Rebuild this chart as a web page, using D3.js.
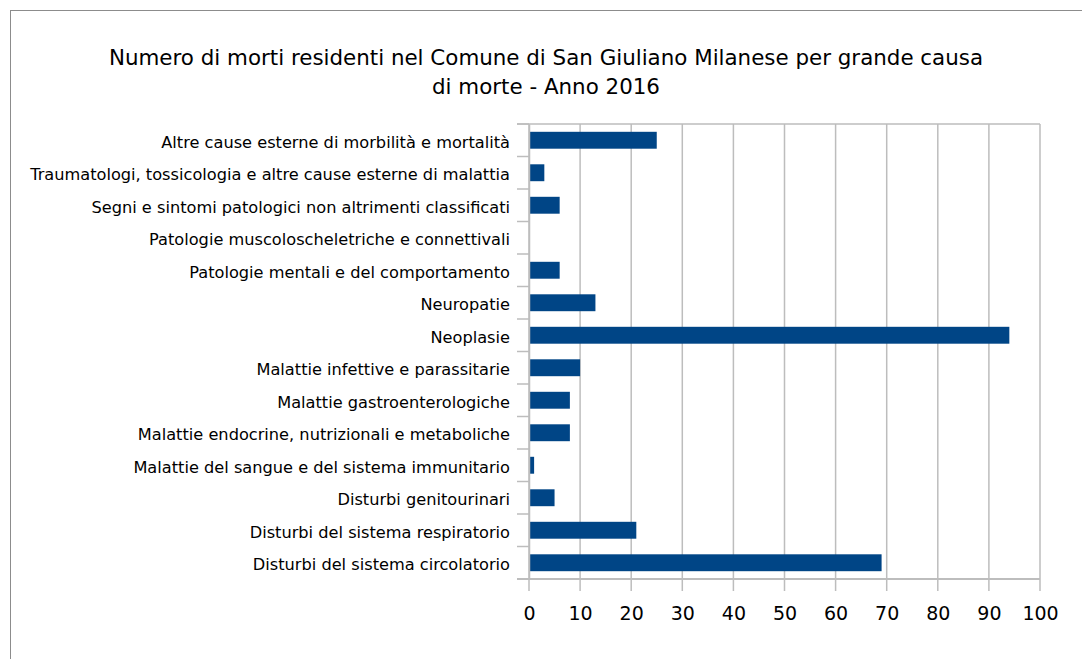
<!DOCTYPE html>
<html>
<head>
<meta charset="utf-8">
<script src="https://cdn.jsdelivr.net/npm/d3@7"></script>
<style>
  body { margin: 0; background: #fff; }
  svg { display: block; font-family: "DejaVu Sans", sans-serif; }
</style>
</head>
<body>
<div id="chart"></div>
<script>
// categories, top to bottom as in the chart
var causes = [
  "Altre cause esterne di morbilità e mortalità",
  "Traumatologi, tossicologia e altre cause esterne di malattia",
  "Segni e sintomi patologici non altrimenti classificati",
  "Patologie muscoloscheletriche e connettivali",
  "Patologie mentali e del comportamento",
  "Neuropatie",
  "Neoplasie",
  "Malattie infettive e parassitarie",
  "Malattie gastroenterologiche",
  "Malattie endocrine, nutrizionali e metaboliche",
  "Malattie del sangue e del sistema immunitario",
  "Disturbi genitourinari",
  "Disturbi del sistema respiratorio",
  "Disturbi del sistema circolatorio"
]
var deaths = [25, 3, 6, 0, 6, 13, 94, 10, 8, 8, 1, 5, 21, 69]
var xTicks = [0, 10, 20, 30, 40, 50, 60, 70, 80, 90, 100]
var titleLines = [
  "Numero di morti residenti nel Comune di San Giuliano Milanese per grande causa",
  "di morte - Anno 2016"
]

var W = 1082, H = 659
var plotL = 529, plotR = 1040, plotT = 124, plotB = 579

var svg = d3.select("#chart").append("svg")
    .attr("width", W)
    .attr("height", H)

// outer chart border
svg.append("rect")
    .attr("x", 10.5).attr("y", 10.5)
    .attr("width", W + 20).attr("height", H + 20)
    .attr("fill", "none")
    .attr("stroke", "#8c8c8c")
    .attr("stroke-width", 1)

svg.append("text")
    .attr("text-anchor", "middle")
    .attr("font-size", "21.4px")
    .attr("fill", "#000")
    .selectAll("tspan")
    .data(titleLines)
    .enter().append("tspan")
        .attr("x", 546)
        .attr("y", function(d, i) { return 65 + i * 29 })
        .text(function(d) { return d })

var x = d3.scaleLinear().domain([0, 100]).range([plotL, plotR])
var y = d3.scaleBand().domain(causes).range([plotT, plotB]).paddingInner(0.48).paddingOuter(0.24)

// vertical gridlines
svg.append("g")
    .selectAll("line")
    .data(xTicks)
    .enter().append("line")
        .attr("x1", function(d) { return x(d) })
        .attr("x2", function(d) { return x(d) })
        .attr("y1", plotT)
        .attr("y2", plotB + 12)
        .attr("stroke", "#bdbdbd")
        .attr("stroke-width", 1.5)

// top border of the plot area
svg.append("line")
    .attr("x1", plotL - 12).attr("x2", plotR)
    .attr("y1", plotT).attr("y2", plotT)
    .attr("stroke", "#bdbdbd")
    .attr("stroke-width", 1.5)

// bars
svg.append("g")
    .selectAll("rect")
    .data(deaths)
    .enter().append("rect")
        .attr("x", x(0))
        .attr("y", function(d, i) { return y(causes[i]) })
        .attr("width", function(d) { return x(d) - x(0) })
        .attr("height", y.bandwidth())
        .attr("fill", "#004586")

// category axis
var yAxis = svg.append("g")
    .attr("transform", "translate(" + plotL + ",0)")
    .call(d3.axisLeft(y).tickSize(0).tickPadding(19))
yAxis.select(".domain").attr("stroke", "#bdbdbd").attr("stroke-width", 1.5)
yAxis.selectAll("text")
    .attr("font-size", "16.2px")
    .attr("fill", "#000")
    .attr("font-family", "DejaVu Sans, sans-serif")
    .attr("dy", "0.45em")

// category tick marks sit on band boundaries
var bounds = causes.map(function(c) { return y(c) - y.step() * y.paddingInner() / 2 })
bounds.push(plotB)
svg.append("g")
    .selectAll("line")
    .data(bounds)
    .enter().append("line")
        .attr("x1", plotL - 12).attr("x2", plotL)
        .attr("y1", function(d) { return d }).attr("y2", function(d) { return d })
        .attr("stroke", "#bdbdbd")
        .attr("stroke-width", 1.5)

// value axis
var xAxis = svg.append("g")
    .attr("transform", "translate(0," + plotB + ")")
    .call(d3.axisBottom(x).tickValues(xTicks).tickSize(0).tickPadding(28))
xAxis.select(".domain").remove()
svg.append("line")
    .attr("x1", plotL - 12).attr("x2", plotR)
    .attr("y1", plotB).attr("y2", plotB)
    .attr("stroke", "#bdbdbd")
    .attr("stroke-width", 2)
xAxis.selectAll("text").attr("font-size", "19px").attr("fill", "#000").attr("font-family", "DejaVu Sans, sans-serif")
</script>
</body>
</html>
